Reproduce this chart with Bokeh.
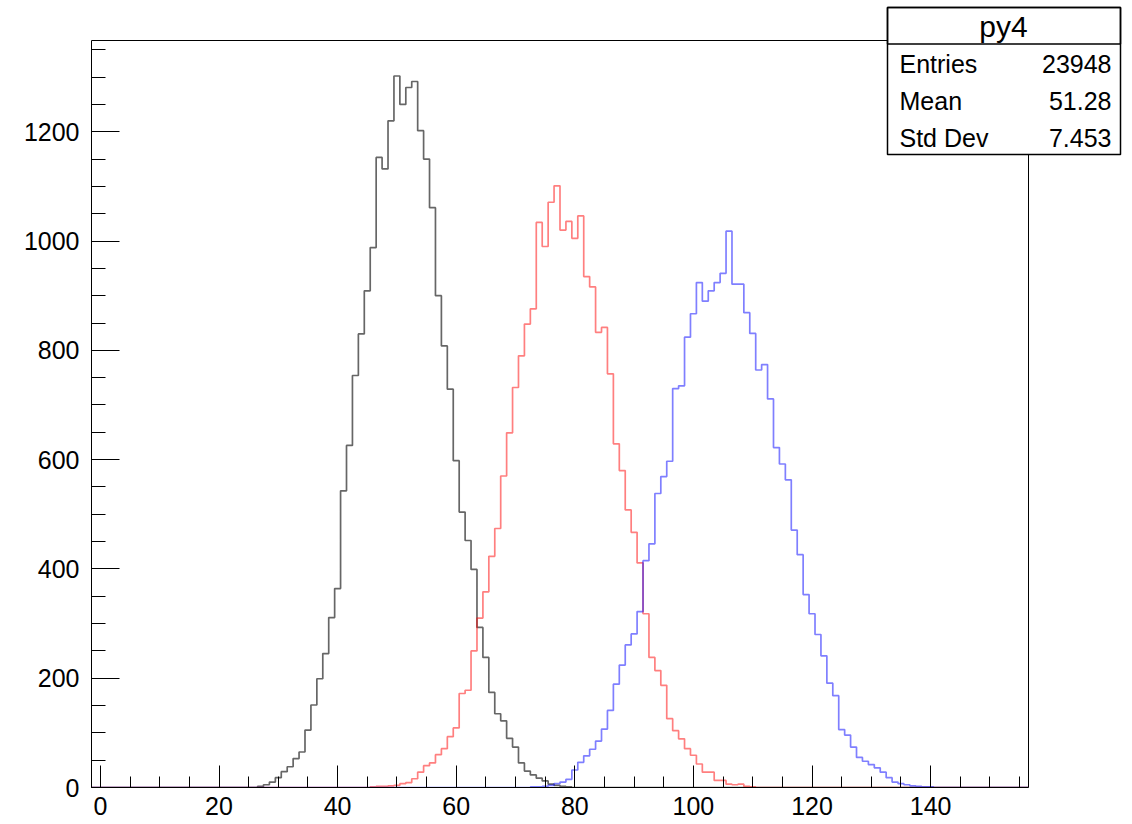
import numpy as np
from bokeh.plotting import figure
from bokeh.models import Range1d, FixedTicker, BoxAnnotation, Label
from bokeh.embed import file_html
from bokeh.resources import INLINE

# ---------------- data ----------------
bin_lo, bin_hi = -1, 156          # integer bin centres, width 1
hist_xmin, hist_xmax = -1.5, 156.5
hist_ymax = 1367

black_first = 27
black_counts = [2, 5, 10, 18, 29, 38, 53, 65, 105, 151, 199, 245, 311, 364, 543, 626, 754,
                830, 909, 988, 1153, 1132, 1220, 1302, 1250, 1281, 1292, 1202, 1150, 1061,
                900, 808, 729, 598, 504, 452, 399, 293, 238, 174, 135, 122, 90, 74, 45, 30,
                23, 17, 12, 6, 4, 2, 1]

red_first = 46
red_counts = [1, 2, 2, 3, 4, 7, 9, 16, 28, 40, 45, 60, 71, 93, 109, 172, 178, 250, 310, 358,
              423, 474, 570, 649, 732, 790, 848, 876, 1034, 990, 1071, 1101, 1020, 1036,
              1005, 1046, 935, 916, 833, 842, 757, 629, 580, 508, 467, 411, 318, 238, 214,
              187, 126, 104, 89, 71, 59, 43, 28, 28, 13, 13, 6, 5, 6, 2, 1]

blue_first = 73
blue_counts = [1, 1, 2, 4, 7, 10, 15, 32, 46, 58, 70, 85, 107, 141, 189, 224, 261, 281, 322,
               415, 446, 538, 569, 597, 730, 735, 824, 867, 924, 890, 909, 924, 941, 1018,
               921, 921, 869, 831, 764, 774, 711, 622, 592, 563, 471, 426, 353, 318, 280,
               241, 191, 168, 106, 96, 74, 55, 48, 42, 36, 28, 18, 10, 7, 5, 3, 2, 1, 1]

stats_title = "py4"
stats_names = ["Entries", "Mean", "Std Dev"]
stats_values = ["23948", "51.28", "7.453"]

x_major = list(range(0, 141, 20))
x_minor = list(range(0, 156, 5))
y_major = list(range(0, 1201, 200))
y_minor = list(range(0, 1351, 50))

# ---------------- helpers ----------------
centers = np.arange(bin_lo, bin_hi + 1)
edges = np.append(centers - 0.5, centers[-1] + 0.5)


def step_xy(first, counts):
    v = np.zeros(len(centers))
    i0 = first - bin_lo
    v[i0:i0 + len(counts)] = counts
    return edges, np.append(v, v[-1])


FONT = "Liberation Sans"
W, H = 1132, 824
FL, FR, FT, FB = 91, 1028, 40, 787      # pixel box of the histogram frame

# the bokeh frame covers everything right of / above the axes, so the stats box fits in it
px_per_x = (FR - FL) / (hist_xmax - hist_xmin)
px_per_y = (FB - FT) / hist_ymax
x_end = hist_xmin + (W - FL) / px_per_x
y_end = FB / px_per_y

p = figure(width=W, height=H, output_backend="svg", toolbar_location=None,
           x_range=Range1d(hist_xmin, x_end), y_range=Range1d(0, y_end),
           min_border_left=FL, min_border_right=0, min_border_top=0,
           min_border_bottom=H - FB)
p.title.visible = False
p.xgrid.visible = False
p.ygrid.visible = False
p.outline_line_color = None
p.background_fill_color = "white"
p.border_fill_color = "white"

# histogram frame (top and right edges)
p.add_layout(BoxAnnotation(left=hist_xmin, right=hist_xmax, bottom=0, top=hist_ymax,
                           fill_alpha=0.0, line_color="black", line_alpha=1.0, line_width=1))

for first, counts, col, alpha in [(black_first, black_counts, "black", 0.6),
                                  (red_first, red_counts, "red", 0.5),
                                  (blue_first, blue_counts, "blue", 0.5)]:
    xs, ys = step_xy(first, counts)
    p.step(xs, ys, mode="after", line_color=col, line_alpha=alpha, line_width=1.7)

# axes styled like ROOT: ticks pointing inward
xa = p.xaxis[0]
xa.ticker = FixedTicker(ticks=x_major, minor_ticks=x_minor)
xa.bounds = (hist_xmin, hist_xmax)
xa.major_tick_in = 22
xa.major_tick_out = 0
xa.minor_tick_in = 11
xa.minor_tick_out = 0
xa.major_label_standoff = 9
xa.major_label_text_font = FONT
xa.major_label_text_font_size = "25px"
xa.major_label_text_color = "black"
xa.axis_line_color = "black"
xa.major_tick_line_color = "black"
xa.minor_tick_line_color = "black"

ya = p.yaxis[0]
ya.ticker = FixedTicker(ticks=y_major, minor_ticks=y_minor)
ya.bounds = (0, hist_ymax)
ya.major_tick_in = 28
ya.major_tick_out = 0
ya.minor_tick_in = 14
ya.minor_tick_out = 0
ya.major_label_standoff = 12
ya.major_label_text_font = FONT
ya.major_label_text_font_size = "25px"
ya.major_label_text_color = "black"
ya.axis_line_color = "black"
ya.major_tick_line_color = "black"
ya.minor_tick_line_color = "black"

# ---------------- statistics box (screen units, relative to frame) ----------------


def sx(cx):
    return cx - FL


def sy(cy):
    return FB - cy


box_l, box_r, box_t, box_b, box_sep = 887, 1120, 7, 154, 43.5
box = BoxAnnotation(left=sx(box_l), right=sx(box_r), top=sy(box_t), bottom=sy(box_b),
                    left_units="screen", right_units="screen", top_units="screen",
                    bottom_units="screen", fill_color="white", fill_alpha=1.0,
                    line_color="black", line_alpha=1.0, line_width=1.5, level="overlay")
p.add_layout(box)
tbox = BoxAnnotation(left=sx(box_l), right=sx(box_r), top=sy(box_t), bottom=sy(box_sep),
                     left_units="screen", right_units="screen", top_units="screen",
                     bottom_units="screen", fill_alpha=0.0,
                     line_color="black", line_alpha=1.0, line_width=1.5, level="overlay")
p.add_layout(tbox)

p.add_layout(Label(x=sx(1003), y=sy(26), x_units="screen", y_units="screen", text=stats_title,
                   text_font=FONT, text_font_size="30px", text_align="center",
                   text_baseline="middle", text_color="black", level="overlay"))
row_y = [63, 100, 137]
for name, val, cy in zip(stats_names, stats_values, row_y):
    p.add_layout(Label(x=sx(899), y=sy(cy), x_units="screen", y_units="screen", text=name,
                       text_font=FONT, text_font_size="25px", text_align="left",
                       text_baseline="middle", text_color="black", level="overlay"))
    p.add_layout(Label(x=sx(1111), y=sy(cy), x_units="screen", y_units="screen", text=val,
                       text_font=FONT, text_font_size="25px", text_align="right",
                       text_baseline="middle", text_color="black", level="overlay"))

open("out.html", "w").write(file_html(p, INLINE))
